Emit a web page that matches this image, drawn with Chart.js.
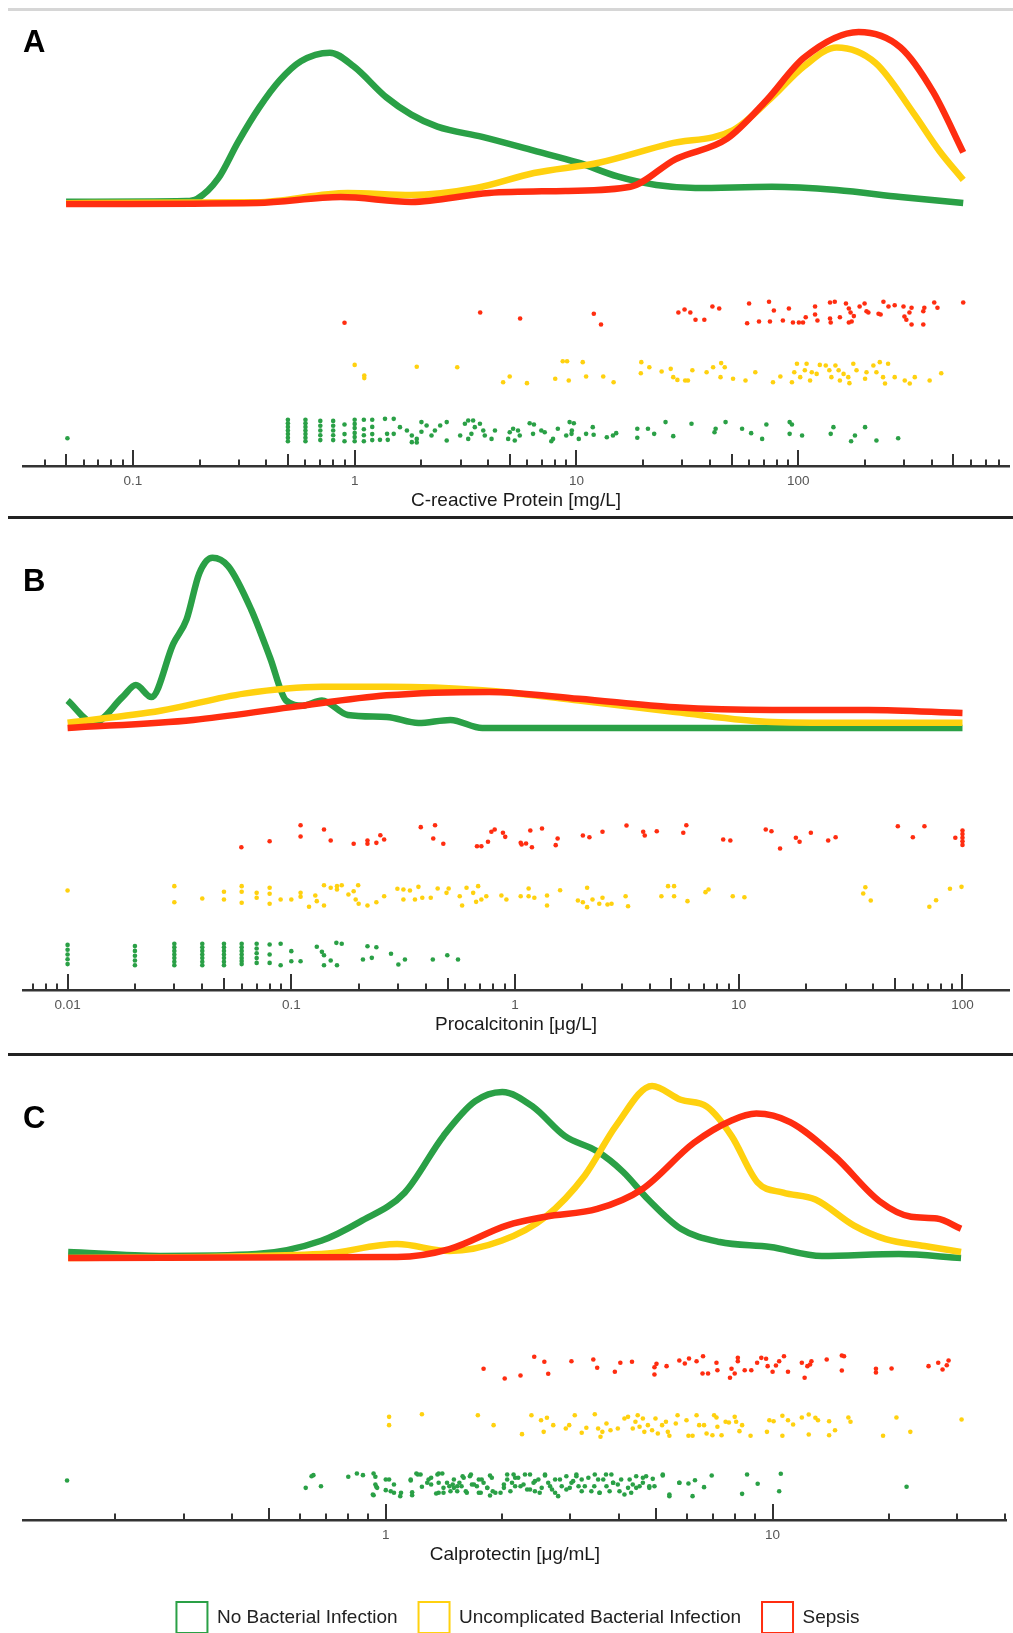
<!DOCTYPE html>
<html>
<head>
<meta charset="utf-8">
<script src="https://cdn.jsdelivr.net/npm/chart.js@4.4.1/dist/chart.umd.min.js"></script>
<style>
  body { margin: 0; background: #fff; }
  #page { position: relative; width: 1013px; height: 1633px; overflow: hidden; background: #fff; }
  canvas { position: absolute; left: 0; }
  .rule { position: absolute; left: 8px; right: 0; }
  .letter { position: absolute; left: 23px; font: bold 31px/31px 'Liberation Sans', Arial, sans-serif; color: #000; }
</style>
</head>
<body>
<div id="page">
  <div class="rule" style="top:8px;height:3px;background:#d6d6d6"></div>
  <canvas id="crp" width="1013" height="516" style="top:0"></canvas>
  <div class="letter" style="top:26px">A</div>
  <div class="rule" style="top:516px;height:3px;background:#222"></div>
  <canvas id="pct" width="1013" height="516" style="top:524px"></canvas>
  <div class="letter" style="top:565px">B</div>
  <div class="rule" style="top:1053px;height:3px;background:#222"></div>
  <canvas id="cal" width="1013" height="589" style="top:1054px"></canvas>
  <div class="letter" style="top:1102px">C</div>
</div>
<script>
const seriesNames = ['No Bacterial Infection', 'Uncomplicated Bacterial Infection', 'Sepsis'];
const palette = ['#2aa046', '#ffd10f', '#ff2d10'];

// decades used for ticks (labels only at decades inside the range)
const crpDecades = [0.01, 0.1, 1, 10, 100];
const pctDecades = [0.001, 0.01, 0.1, 1, 10, 100];
const calDecades = [0.1, 1, 10];

// ---- A: C-reactive protein, density curves ----
const crpNoInfX = [0.05, 0.174, 0.195, 0.243, 0.298, 0.371, 0.46, 0.572, 0.773, 0.99, 1.39, 1.80, 2.36, 3.76, 6.43, 10.2, 15.3, 22.9, 34.3, 76, 149, 289, 554];
const crpNoInfD = [0.013, 0.017, 0.03, 0.15, 0.36, 0.56, 0.72, 0.83, 0.88, 0.80, 0.62, 0.52, 0.45, 0.39, 0.31, 0.24, 0.16, 0.11, 0.093, 0.10, 0.081, 0.041, 0.006];
const crpUncX = [0.05, 0.363, 0.93, 1.80, 3.53, 6.43, 12.6, 26.2, 50.9, 76, 106, 149, 223, 330, 432, 554];
const crpUncD = [0.005, 0.01, 0.064, 0.052, 0.093, 0.18, 0.24, 0.35, 0.43, 0.62, 0.80, 0.91, 0.82, 0.53, 0.31, 0.14];
const crpSepX = [0.05, 0.363, 0.865, 1.80, 4.04, 8.95, 17.5, 27.9, 47.8, 71.6, 106, 187, 289, 406, 554];
const crpSepD = [0, 0.006, 0.04, 0.012, 0.064, 0.076, 0.10, 0.26, 0.38, 0.60, 0.85, 1.0, 0.91, 0.65, 0.30];

// ---- A: individual values [value, vertical jitter] ----
const crpSepPts = [[0.90,0.86],[3.68,0],[5.57,0.5],[11.97,0.1],[12.9,1],[28.8,0],[30.7,-0.25],[32.6,0],[34.4,0.6],[37.7,0.6],[41,-0.5],[44,-0.33],[60,-0.75],[58.8,0.9],[66.5,0.75],[73.8,-0.9],[74.5,0.75],[77.6,-0.17],[85.2,0.67],[90.7,-0.33],[94.6,0.83],[100.6,0.83],[105,0.83],[108,0.4],[119,-0.5],[119,0.17],[122,0.67],[139,-0.83],[146,-0.9],[139,0.5],[140,0.83],[154,0.4],[164,-0.75],[169,-0.33],[172,0],[178,0.3],[169,0.83],[174,0.75],[189,-0.5],[199,-0.75],[203,-0.1],[207,0],[230,0.1],[235,0.17],[242,-0.9],[255,-0.5],[272,-0.6],[298,-0.5],[301,0.33],[324,-0.4],[317,0],[307,0.6],[324,1],[366,-0.1],[366,1],[410,-0.83],[424,-0.4],[370,-0.4],[554,-0.83]];
const crpUncPts = [[1.0,-0.55],[1.105,0.33],[1.105,0.55],[1.905,-0.4],[2.90,-0.36],[4.67,0.9],[5.0,0.42],[5.98,0.97],[8.02,0.6],[8.67,-0.86],[9.07,-0.86],[9.23,0.75],[10.67,-0.78],[11.05,0.42],[13.2,0.42],[14.7,0.9],[19.6,-0.78],[19.5,0.14],[21.3,-0.36],[24.2,0],[26.6,-0.22],[27.3,0.47],[28.5,0.7],[30.9,0.75],[31.8,0.75],[33.3,-0.1],[38.6,0.06],[41.3,-0.36],[44.9,-0.7],[46.6,-0.36],[44.6,0.47],[50.8,0.6],[57.8,0.75],[64,0.06],[76.9,0.9],[83,0.42],[98.6,-0.64],[95.9,0.06],[93.6,0.9],[102,0.47],[109,-0.64],[107,-0.1],[115,0.06],[121,0.2],[113,0.75],[125,-0.55],[133,-0.5],[138,-0.1],[141,0.47],[147,-0.5],[152,-0.1],[160,0.2],[168,0.47],[177,-0.64],[183,-0.1],[170,0.97],[154,0.75],[200,0.6],[203,0.06],[218,-0.5],[233,-0.78],[254,-0.64],[225,0.06],[241,0.47],[246,1],[272,0.47],[302,0.75],[318,1],[335,0.47],[391,0.75],[441,0.14]];
const crpNoInfPts = [[0.0507,0.64],
  [0.5,-0.9],[0.5,-0.6],[0.5,-0.3],[0.5,0],[0.5,0.3],[0.5,0.6],[0.5,0.9],
  [0.6,-0.9],[0.6,-0.6],[0.6,-0.3],[0.6,0],[0.6,0.3],[0.6,0.6],[0.6,0.9],
  [0.7,-0.8],[0.7,-0.4],[0.7,0],[0.7,0.4],[0.7,0.8],
  [0.8,-0.8],[0.8,-0.4],[0.8,0],[0.8,0.4],[0.8,0.8],
  [0.9,-0.5],[0.9,0.3],[0.9,0.9],
  [1.0,-0.9],[1.0,-0.55],[1.0,-0.2],[1.0,0.2],[1.0,0.55],[1.0,0.9],
  [1.1,-0.9],[1.1,-0.1],[1.1,0.4],[1.1,0.9],
  [1.2,-0.9],[1.2,-0.3],[1.2,0.3],[1.2,0.8],
  [1.37,-0.97],[1.5,-0.97],[1.4,0.28],[1.5,0.28],[1.3,0.78],[1.41,0.78],[1.6,-0.28],[1.72,0],[1.81,0.42],[1.81,0.97],[1.905,0.7],[1.905,1.0],[2.0,-0.7],[2.11,-0.42],[2.0,0.1],[2.22,0.42],[2.3,0],[2.43,-0.42],[2.6,-0.7],[2.6,0.83],[2.99,0.42],[3.14,-0.56],[3.25,-0.83],[3.42,-0.83],[3.48,-0.28],[3.67,-0.56],[3.8,0],[3.86,0.42],[3.36,0.28],[3.25,0.7],[4.14,0.7],[4.29,0],
  [5.0,0.14],[5.18,-0.14],[5.45,0],[5.55,0.42],[5.27,0.83],[4.92,0.7],[6.15,-0.6],[6.43,-0.5],[6.37,0.28],[6.94,0],[7.19,0.14],[7.7,0.9],[7.84,0.7],[8.24,-0.14],[8.99,0.42],[9.31,-0.7],[9.73,-0.6],[9.53,0],[9.5,0.28],[10.24,0.7],[11.05,0.28],[11.84,-0.28],[11.95,0.36],[13.7,0.56],[14.6,0.42],[15.1,0.22],[18.8,-0.14],[18.8,0.6],[21.0,-0.14],[22.4,0.28],[25.2,-0.7],[27.3,0.47],[33.0,-0.56],[42.4,-0.14],[41.9,0.14],[47.0,-0.7],[55.8,-0.14],[61.3,0.22],[68.7,0.7],[71.8,-0.5],[91.4,-0.7],[93.6,-0.5],[91.4,0.28],[104,0.42],[140,0.28],[144,-0.28],[173,0.9],[180,0.42],[200,-0.28],[225,0.83],[282,0.64]];

// ---- B: procalcitonin, density curves ----
const pctNoInfX = [0.01, 0.0131, 0.0176, 0.0202, 0.0237, 0.0297, 0.034, 0.0388, 0.0444, 0.0523, 0.0661, 0.0803, 0.0947, 0.1127, 0.137, 0.179, 0.267, 0.370, 0.514, 0.714, 100];
const pctNoInfD = [0.16, 0.03, 0.18, 0.25, 0.18, 0.49, 0.63, 0.90, 0.99, 0.94, 0.69, 0.41, 0.16, 0.13, 0.16, 0.076, 0.064, 0.029, 0.047, 0, 0];
const pctUncX = [0.01, 0.026, 0.0615, 0.137, 0.267, 0.714, 1.93, 5.2, 14.1, 38, 100];
const pctUncD = [0.03, 0.1, 0.2, 0.24, 0.24, 0.22, 0.16, 0.093, 0.035, 0.03, 0.03];
const pctSepX = [0.01, 0.0365, 0.0986, 0.267, 0.766, 1.93, 5.2, 14.1, 38, 100];
const pctSepD = [0, 0.047, 0.12, 0.19, 0.21, 0.17, 0.12, 0.105, 0.105, 0.087];

const pctSepPts = [[0.0598,0.89],[0.080,0.39],[0.110,-0.94],[0.110,0],[0.140,-0.58],[0.150,0.33],[0.190,0.61],[0.219,0.33],[0.219,0.61],[0.240,0.53],[0.250,-0.1],[0.260,0.25],[0.379,-0.78],[0.439,-0.94],[0.431,0.17],[0.478,0.61],[0.676,0.81],[0.707,0.81],[0.757,0.44],[0.784,-0.39],[0.811,-0.58],[0.883,-0.31],[0.904,0.03],[1.06,0.53],[1.07,0.67],[1.12,0.58],[1.17,-0.5],[1.19,0.89],[1.32,-0.67],[1.52,0.72],[1.55,0.17],[2.01,-0.08],[2.15,0.06],[2.46,-0.39],[3.15,-0.92],[3.74,-0.39],[3.80,-0.08],[4.30,-0.44],[5.65,-0.31],[5.83,-0.94],[8.52,0.25],[9.17,0.33],[13.2,-0.58],[14.0,-0.44],[15.3,1.0],[18.0,0.11],[18.7,0.44],[21.0,-0.31],[25.1,0.33],[27.1,0.06],[51.4,-0.86],[60.0,0.06],[67.6,-0.86],[92.9,0.11],[100,-0.5],[100,-0.2],[100,0.1],[100,0.4],[100,0.7]];
const pctUncPts = [[0.01,-0.42],[0.03,-0.78],[0.03,0.56],[0.04,0.25],[0.05,-0.31],[0.05,0.33],[0.06,-0.78],[0.06,-0.31],[0.06,0.61],[0.07,-0.22],[0.07,0.19],[0.08,-0.64],[0.08,-0.14],[0.08,0.69],[0.0896,0.33],[0.1,0.33],[0.11,-0.22],[0.11,0.11],[0.12,0.94],[0.128,0],[0.13,0.47],[0.14,-0.86],[0.14,0.83],[0.15,-0.64],[0.16,-0.78],[0.16,-0.5],[0.168,-0.86],[0.18,-0.08],[0.19,-0.36],[0.199,-0.86],[0.194,0.33],[0.2,0.69],[0.219,0.83],[0.24,0.56],[0.26,0.06],[0.298,-0.56],[0.317,-0.5],[0.317,0.33],[0.339,-0.42],[0.357,0.33],[0.37,-0.72],[0.385,0.19],[0.42,0.19],[0.451,-0.58],[0.494,-0.22],[0.505,-0.58],[0.566,0.06],[0.58,0.83],[0.607,-0.64],[0.65,-0.22],[0.684,-0.78],[0.67,0.53],[0.707,0.33],[0.744,0.06],[0.869,0],[0.915,0.33],[1.06,0.06],[1.15,-0.58],[1.15,0.06],[1.22,0.19],[1.39,0],[1.39,0.83],[1.59,-0.44],[1.91,0.42],[2.01,0.56],[2.1,-0.64],[2.1,0.97],[2.22,0.33],[2.38,0.69],[2.46,0.19],[2.59,0.75],[2.7,0.69],[3.12,0.06],[3.2,0.89],[4.51,0.06],[4.83,-0.78],[5.14,-0.78],[5.14,0.06],[5.9,0.47],[7.1,-0.28],[7.33,-0.5],[9.4,0.06],[10.6,0.14],[36.0,-0.17],[36.8,-0.69],[38.9,0.42],[71.1,0.94],[76.2,0.39],[87.9,-0.56],[99,-0.72]];
const pctNoInfPts = [[0.01,-0.8],[0.01,-0.4],[0.01,0],[0.01,0.4],[0.01,0.8],
  [0.02,-0.7],[0.02,-0.3],[0.02,0.1],[0.02,0.5],[0.02,0.9],
  [0.03,-0.9],[0.03,-0.6],[0.03,-0.3],[0.03,0],[0.03,0.3],[0.03,0.6],[0.03,0.9],
  [0.04,-0.9],[0.04,-0.6],[0.04,-0.3],[0.04,0],[0.04,0.3],[0.04,0.6],[0.04,0.9],
  [0.05,-0.9],[0.05,-0.6],[0.05,-0.3],[0.05,0],[0.05,0.3],[0.05,0.6],[0.05,0.9],
  [0.06,-0.9],[0.06,-0.6],[0.06,-0.3],[0.06,0],[0.06,0.3],[0.06,0.55],[0.06,0.8],
  [0.07,-0.9],[0.07,-0.5],[0.07,-0.1],[0.07,0.3],[0.07,0.7],
  [0.08,-0.83],[0.08,0],[0.08,0.7],
  [0.0896,-0.89],[0.0896,0.89],[0.1,-0.28],[0.1,0.56],[0.11,0.56],[0.13,-0.64],[0.137,-0.22],[0.14,0.06],[0.14,0.89],[0.15,0.5],[0.159,-0.97],[0.168,-0.89],[0.16,0.89],[0.219,-0.69],[0.24,-0.61],[0.209,0.42],[0.229,0.28],[0.279,-0.06],[0.301,0.83],[0.322,0.42],[0.429,0.42],[0.498,0.06],[0.556,0.42]];

// ---- C: calprotectin, density curves ----
const calNoInfX = [0.151, 0.261, 0.463, 0.681, 0.857, 1.119, 1.41, 1.70, 2.00, 2.40, 2.90, 3.52, 4.11, 4.77, 5.79, 7.30, 9.87, 13.4, 21.2, 30.7];
const calNoInfD = [0.035, 0.012, 0.023, 0.1, 0.21, 0.38, 0.71, 0.91, 0.965, 0.88, 0.71, 0.62, 0.50, 0.34, 0.17, 0.093, 0.064, 0.012, 0.023, 0];
const calUncX = [0.151, 0.681, 1.07, 1.46, 1.99, 2.59, 3.27, 3.94, 4.88, 5.79, 6.76, 7.83, 9.14, 10.65, 12.9, 16.2, 19.6, 24.7, 30.7];
const calUncD = [0, 0.023, 0.081, 0.04, 0.1, 0.24, 0.48, 0.77, 1.0, 0.92, 0.88, 0.71, 0.44, 0.38, 0.34, 0.19, 0.11, 0.07, 0.035];
const calSepX = [0.151, 1.07, 1.46, 2.06, 2.59, 3.52, 4.60, 6.26, 7.83, 9.08, 11.1, 14.5, 18.9, 22.8, 26.6, 30.7];
const calSepD = [0, 0.006, 0.052, 0.19, 0.24, 0.285, 0.40, 0.67, 0.80, 0.84, 0.79, 0.59, 0.33, 0.24, 0.23, 0.17];

const calSepPts = [[1.79,0.19],[2.03,1.0],[2.23,0.75],[2.42,-0.81],[2.57,-0.39],[2.63,0.61],[3.02,-0.44],[3.44,-0.58],[3.52,0.11],[3.91,0.44],[4.04,-0.31],[4.33,-0.39],[4.95,0.06],[4.95,0.67],[5.01,-0.22],[5.32,-0.03],[5.74,-0.5],[5.93,-0.25],[6.08,-0.67],[6.36,-0.44],[6.61,-0.86],[6.59,0.58],[6.81,0.58],[7.16,-0.31],[7.2,0.31],[7.76,0.94],[7.83,0.19],[7.98,0.58],[8.13,-0.72],[8.13,-0.44],[8.47,0.31],[8.81,0.31],[9.12,-0.31],[9.35,-0.72],[9.62,-0.64],[9.71,-0.03],[10.0,0.44],[10.2,-0.08],[10.4,-0.44],[10.7,-0.86],[10.96,0.44],[11.9,-0.31],[12.1,0.94],[12.3,-0.03],[12.5,-0.17],[12.6,-0.44],[13.8,-0.58],[15.1,-0.92],[15.3,-0.86],[15.1,0.33],[18.5,0.19],[18.5,0.5],[20.3,0.17],[25.3,-0.03],[26.8,-0.31],[27.5,0.25],[28.2,-0.11],[28.5,-0.5]];
const calUncPts = [[1.02,-0.72],[1.02,-0.03],[1.24,-0.94],[1.73,-0.86],[1.9,-0.03],[2.25,0.72],[2.38,-0.86],[2.52,-0.44],[2.61,-0.64],[2.56,0.53],[2.71,-0.03],[2.92,0.25],[2.98,-0.03],[3.08,-0.86],[3.21,0.61],[3.3,0.19],[3.47,-0.94],[3.54,0.25],[3.59,0.94],[3.63,0.53],[3.72,-0.17],[3.81,0.39],[3.98,0.25],[4.14,-0.58],[4.23,-0.72],[4.35,0.25],[4.42,-0.31],[4.48,-0.86],[4.53,0.11],[4.62,-0.58],[4.66,0.53],[4.76,-0.03],[4.88,0.39],[4.98,-0.58],[5.05,0.67],[5.18,-0.03],[5.3,-0.31],[5.36,0.53],[5.41,0.86],[5.68,-0.86],[5.62,-0.17],[5.99,-0.44],[6.06,0.86],[6.21,0.86],[6.36,-0.86],[6.46,-0.03],[6.65,-0.03],[6.75,0.67],[6.99,0.81],[7.06,-0.86],[7.16,-0.67],[7.2,0.11],[7.38,0.81],[7.56,-0.31],[7.71,-0.25],[7.98,-0.72],[8.05,-0.31],[8.21,0.47],[8.34,-0.03],[8.77,0.86],[9.67,0.53],[9.81,-0.44],[10.06,-0.36],[10.6,-0.81],[10.6,0.86],[10.96,-0.44],[11.3,-0.08],[11.9,-0.67],[12.4,-0.92],[12.4,0.75],[12.9,-0.64],[13.1,-0.44],[14.0,-0.36],[14.0,0.81],[14.5,0.39],[15.7,-0.67],[15.9,-0.31],[19.3,0.86],[20.9,-0.67],[22.7,0.53],[30.8,-0.5]];
const calNoInfPts = [[0.150,-0.33],[0.621,0.28],[0.643,-0.69],[0.65,-0.78],[0.68,0.14],[0.80,-0.64],[0.842,-0.92],[0.873,-0.78],[0.93,-0.92],[0.94,-0.64],[0.93,0.89],[0.945,0.19],[0.95,0.28],[1.0,0.47],[1.02,-0.42],[1.05,0.69],[1.05,0],[1.09,0.97],[1.16,-0.33],[1.17,0.64],[1.17,0.89],[1.2,-0.92],[1.23,-0.83],[1.24,0.19],[1.29,-0.42],[1.31,0],[1.35,0.75],[1.37,-0.92],[1.4,-0.92],[1.37,-0.14],[1.41,0.69],[1.44,-0.14],[1.46,0.14],[1.49,0],[1.5,0.28],[1.53,0.56],[1.55,-0.14],[1.57,0.14],[1.59,-0.56],[1.62,0.69],[1.65,-0.69],[1.67,0],[1.72,0.14],[1.74,-0.42],[1.76,0.69],[1.79,-0.14],[1.83,0.28],[1.86,-0.75],[1.86,0.92],[1.89,0.56],[1.98,0.69],[2.02,0.28],[2.06,-0.42],[2.12,-0.14],[2.14,-0.83],[2.16,0.14],[2.2,-0.56],[2.27,0],[2.32,0.42],[2.36,-0.83],[2.41,-0.14],[2.43,0.56],[2.48,-0.42],[2.53,0.28],[2.58,-0.75],[2.63,-0.14],[2.69,0.42],[2.74,-0.42],[2.79,0.97],[2.85,0.14],[2.93,-0.69],[2.99,0.28],[3.05,-0.28],[3.11,-0.69],[3.15,0.14],[3.21,-0.42],[3.27,0.14],[3.4,0.56],[3.47,-0.83],[3.54,-0.42],[3.57,0.69],[3.65,-0.42],[3.72,0.14],[3.79,0.56],[3.83,-0.83],[3.87,-0.14],[3.98,0],[4.06,-0.42],[4.14,0.83],[4.23,0.28],[4.31,0.69],[4.35,0],[4.44,-0.69],[4.53,0.14],[4.62,-0.14],[4.71,-0.69],[4.8,0.28],[4.9,-0.47],[4.95,0.14],[5.2,-0.75],[5.41,0.97],[5.74,-0.14],[6.06,-0.08],[6.21,0.97],[6.3,-0.36],[6.65,0.22],[6.96,-0.75],[8.34,0.78],[8.59,-0.83],[9.15,-0.06],[10.5,-0.89],[10.4,0.56],[22.2,0.19],
  [0.94,0],[0.926,0.83],[1.0,-0.42],[1.03,0.56],[1.095,0.69],[1.16,-0.42],[1.21,-0.83],[1.28,-0.14],[1.31,-0.56],[1.36,-0.83],[1.37,0.69],[1.41,0.28],[1.47,0.56],[1.5,-0.42],[1.53,0.14],[1.58,-0.69],[1.61,0.56],[1.66,-0.83],[1.69,0],[1.74,0.69],[1.77,-0.42],[1.83,0.28],[1.88,-0.56],[1.92,0.69],[2.02,0],[2.06,-0.83],[2.1,0.56],[2.16,-0.56],[2.23,0.14],[2.29,-0.83],[2.36,0.42],[2.43,-0.28],[2.5,0.69],[2.58,-0.83],[2.66,0.14],[2.74,0.69],[2.82,-0.42],[2.93,0.42],[3.02,-0.14],[3.11,-0.83],[3.21,0.56],[3.34,-0.56],[3.46,0.14],[3.57,0.69],[3.71,-0.83],[3.87,-0.14],[4.02,0.56],[4.27,-0.42],[4.44,0.28],[4.62,-0.56],[4.8,0.14],[5.2,-0.83],[5.41,0.83],[5.74,-0.14]];

Chart.defaults.font.family = "'Liberation Sans', Arial, sans-serif";

const JITTER = 0.2034; // one jitter unit = 12px of a 59px row step

function strip(pairs, row) {
  return pairs.map(p => ({ x: p[0], y: row - p[1] * JITTER }));
}
function curve(xs, ds) {
  return xs.map((x, i) => ({ x: x, y: ds[i] }));
}
function tickValues(decades, min, max) {
  const out = [];
  decades.forEach(d => {
    for (let k = 1; k <= 9; k++) {
      const v = k * d;
      if (v >= min && v <= max) out.push(v);
    }
  });
  return out;
}

// ticks drawn upward from the axis line: decades long, 5x medium, others short
const tickMarks = {
  id: 'tickMarks',
  beforeDatasetsDraw(chart) {
    const sc = chart.scales.x;
    const ctx = chart.ctx;
    const y0 = chart.chartArea.bottom;
    ctx.save();
    ctx.strokeStyle = '#333';
    ctx.lineWidth = 2;
    sc.ticks.forEach(t => {
      const m = Math.round(t.value / Math.pow(10, Math.floor(Math.log10(t.value) + 1e-9)));
      const len = m === 1 ? 16 : (m === 5 ? 12 : 6.5);
      const px = Math.round(sc.getPixelForValue(t.value));
      ctx.beginPath();
      ctx.moveTo(px, y0);
      ctx.lineTo(px, y0 - len);
      ctx.stroke();
    });
    ctx.restore();
  }
};

function drawPanel(id, o) {
  const datasets = [];
  o.curves.forEach((c, i) => datasets.push({
    label: seriesNames[i],
    data: curve(c[0], c[1]),
    yAxisID: 'yd',
    showLine: true,
    pointRadius: 0,
    borderColor: palette[i],
    backgroundColor: palette[i],
    borderWidth: 6.5,
    cubicInterpolationMode: 'monotone',
    order: 3 - i
  }));
  o.points.forEach((p, i) => datasets.push({
    label: seriesNames[i] + ' values',
    data: strip(p, i + 1),
    yAxisID: 'ys',
    pointRadius: 2.3,
    pointBorderWidth: 0,
    backgroundColor: palette[i],
    borderColor: palette[i],
    order: 10
  }));

  new Chart(document.getElementById(id), {
    type: 'scatter',
    data: { datasets },
    plugins: [tickMarks],
    options: {
      responsive: false,
      animation: false,
      events: [],
      layout: { padding: { top: 20, left: 23, right: 0, bottom: o.padBottom } },
      scales: {
        x: {
          type: 'logarithmic',
          min: o.min,
          max: o.max,
          afterBuildTicks: ax => { ax.ticks = tickValues(o.decades, o.min, o.max).map(v => ({ value: v })); },
          grid: { display: false, drawTicks: false },
          border: { display: true, color: '#333', width: 2.5 },
          ticks: {
            autoSkip: false, maxRotation: 0, minRotation: 0, padding: 7.5,
            color: '#555', font: { size: 13.5 },
            callback: v => o.decades.includes(v) ? String(v) : ''
          },
          title: {
            display: true, text: o.title, color: '#1a1a1a',
            font: { size: 19 }, padding: { top: -8, bottom: o.titleGap || 0 }
          }
        },
        yd: { type: 'linear', display: false, min: -1.5233, max: 1.0698 },
        ys: { type: 'linear', display: false, min: 0.3983, max: 7.9576 }
      },
      plugins: {
        tooltip: { enabled: false },
        legend: {
          display: !!o.legend,
          position: 'bottom',
          labels: {
            boxWidth: 31, boxHeight: 31, padding: 21,
            color: '#222', font: { size: 19 },
            generateLabels: () => seriesNames.map((n, i) => ({
              text: n, fillStyle: '#fff', strokeStyle: palette[i], lineWidth: 2,
              hidden: false, datasetIndex: i, fontColor: '#222'
            }))
          }
        }
      }
    }
  });
}

drawPanel('crp', {
  min: 0.03197, max: 891, decades: crpDecades, padBottom: 4,
  title: 'C-reactive Protein [mg/L]',
  curves: [[crpNoInfX, crpNoInfD], [crpUncX, crpUncD], [crpSepX, crpSepD]],
  points: [crpNoInfPts, crpUncPts, crpSepPts]
});
drawPanel('pct', {
  min: 0.00632, max: 161.4, decades: pctDecades, padBottom: 4,
  title: 'Procalcitonin [μg/L]',
  curves: [[pctNoInfX, pctNoInfD], [pctUncX, pctUncD], [pctSepX, pctSepD]],
  points: [pctNoInfPts, pctUncPts, pctSepPts]
});
drawPanel('cal', {
  min: 0.1154, max: 40.3, decades: calDecades, padBottom: 0, titleGap: 15, legend: true,
  title: 'Calprotectin [μg/mL]',
  curves: [[calNoInfX, calNoInfD], [calUncX, calUncD], [calSepX, calSepD]],
  points: [calNoInfPts, calUncPts, calSepPts]
});
</script>
</body>
</html>
